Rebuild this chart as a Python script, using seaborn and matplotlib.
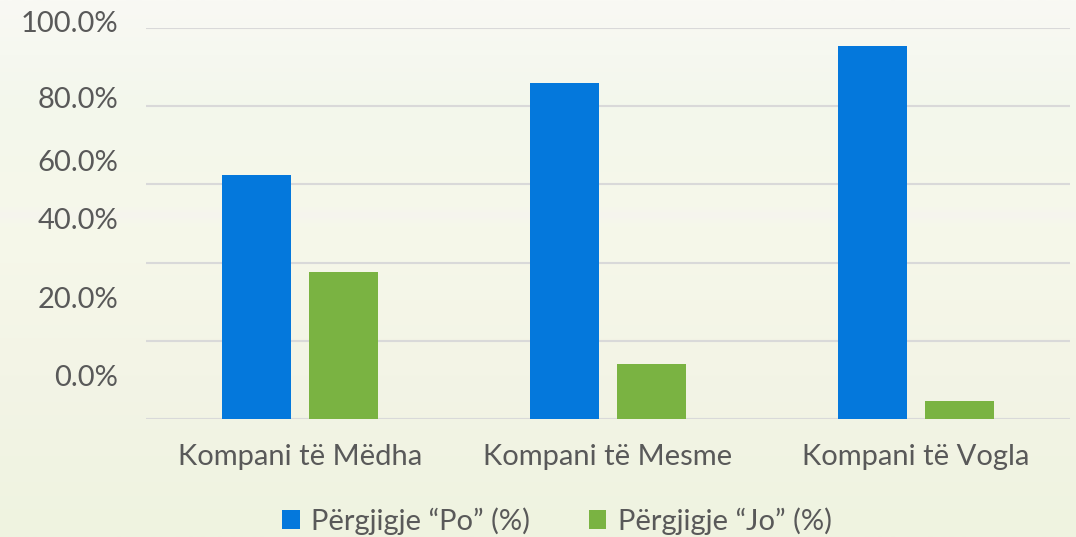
import numpy as np
import pandas as pd
import matplotlib
matplotlib.use("Agg")
import matplotlib.pyplot as plt
import matplotlib.transforms as mtransforms
from matplotlib.colors import LinearSegmentedColormap
from matplotlib.patches import Patch
import seaborn as sns

categories = ["Kompani të Mëdha", "Kompani të Mesme", "Kompani të Vogla"]
series_names = ["Përgjigje \u201cPo\u201d (%)", "Përgjigje \u201cJo\u201d (%)"]
po_values = [62.5, 86.0, 95.3]
jo_values = [37.5, 14.0, 4.7]
ytick_values = [0, 20, 40, 60, 80, 100]
ytick_labels = ["0.0%", "20.0%", "40.0%", "60.0%", "80.0%", "100.0%"]
colors = ["#0478DC", "#7AB342"]

df = pd.DataFrame({
    "cat": categories * 2,
    "series": [series_names[0]] * 3 + [series_names[1]] * 3,
    "val": po_values + jo_values,
})

sns.set_theme(style="white")
plt.rcParams["font.family"] = ["Lato", "DejaVu Sans"]

fig = plt.figure(figsize=(10.76, 5.37), dpi=100)

# background gradient
bg = fig.add_axes([0, 0, 1, 1], zorder=-10)
cmap = LinearSegmentedColormap.from_list(
    "bg", [(0, "#f9f9f4"), (0.2, "#f3f7ec"), (0.38, "#f6f8ea"), (0.4, "#f5f4ee"),
           (0.42, "#f6f8ea"), (0.7, "#f3f4e6"), (1, "#eff3e0")])
bg.imshow(np.linspace(0, 1, 256).reshape(-1, 1), aspect="auto", cmap=cmap,
          extent=[0, 1, 1, 0])
bg.axis("off")
fig.patch.set_facecolor("#f3f6e8")

ax = fig.add_axes([146 / 1076, 1 - 419 / 537, (1070 - 146) / 1076, (419 - 28) / 537])
ax.patch.set_alpha(0)
sns.barplot(data=df, x="cat", y="val", hue="series", palette=colors,
            saturation=1, width=0.565, gap=0.2, ax=ax, legend=False,
            linewidth=0, edgecolor="none", zorder=3)
ax.set_xlim(-0.5, 2.5)
ax.set_ylim(0, 100)
ax.set_yticks(ytick_values)
ax.set_yticklabels(ytick_labels)
ax.set_xlabel("")
ax.set_ylabel("")
for s in ["top", "right", "left", "bottom"]:
    ax.spines[s].set_visible(False)
ax.grid(axis="y", color="#d9d9d9", linewidth=1.5, zorder=0)
ax.set_axisbelow(True)
ax.tick_params(axis="y", length=0, pad=20, labelsize=21, labelcolor="#595959")
ax.tick_params(axis="x", length=0, pad=18, labelsize=21, labelcolor="#595959")

# label offsets (pixels, upward) as in the reference
offsets = [43, 43, 44, 24, 9, 7]
for lab, dy in zip(ax.get_yticklabels(), offsets):
    lab.set_transform(lab.get_transform() +
                      mtransforms.ScaledTranslation(0, dy / 100, fig.dpi_scale_trans))

handles = [Patch(facecolor=c, edgecolor="none") for c in colors]
fig.legend(handles, series_names, loc="center", bbox_to_anchor=(557 / 1076, 1 - 521 / 537),
           ncol=2, frameon=False, fontsize=21, labelcolor="#595959",
           handlelength=0.6, handleheight=0.6, handletextpad=0.4, columnspacing=2.0)

fig.savefig("out.png", dpi=100, facecolor=fig.get_facecolor())
